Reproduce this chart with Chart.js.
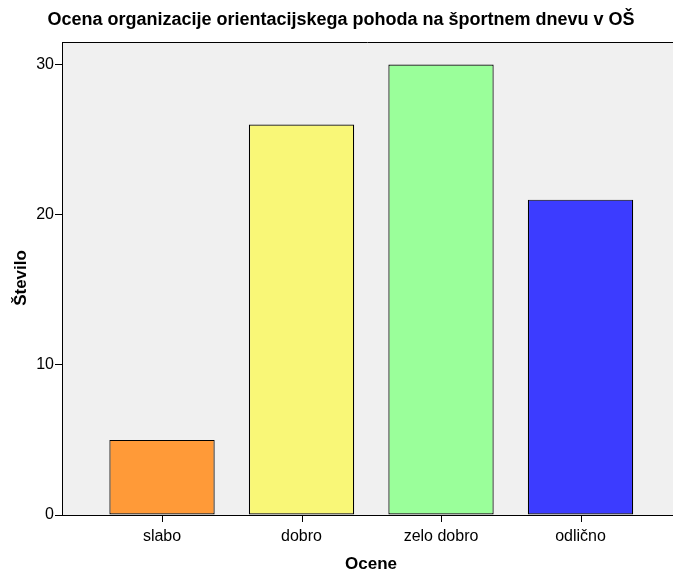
<!DOCTYPE html>
<html>
<head>
<meta charset="utf-8">
<script src="https://cdn.jsdelivr.net/npm/chart.js@4/dist/chart.umd.min.js"></script>
<style>
  html, body { margin: 0; padding: 0; background: #ffffff; }
  #wrap { width: 673px; height: 570px; position: relative; }
</style>
</head>
<body>
<div id="wrap"><canvas id="chart"></canvas></div>
<script>
// Data
const categories = ['slabo', 'dobro', 'zelo dobro', 'odlično'];
const counts = [5, 26, 30, 21];
const barColors = ['#FF9A38', '#F9F777', '#9AFF9A', '#3C3CFF'];
const yTicks = [0, 10, 20, 30];

const titleText = 'Ocena organizacije orientacijskega pohoda na športnem dnevu v OŠ';
const xTitle = 'Ocene';
const yTitle = 'Število';

const FONT = '"Liberation Sans", Arial, sans-serif';

// plot background, top frame line, x tick marks and the titles
const frame = {
    id: 'frame',
    beforeDraw(chart) {
        const { ctx, chartArea: a } = chart;
        ctx.save();
        ctx.fillStyle = '#F0F0F0';
        ctx.fillRect(a.left, a.top, a.right - a.left, a.bottom - a.top);
        ctx.restore();
    },
    afterDraw(chart) {
        const { ctx, chartArea: a } = chart;
        const xs = chart.scales.x;
        ctx.save();
        ctx.strokeStyle = '#000000';
        ctx.lineWidth = 1;
        ctx.beginPath();
        ctx.moveTo(a.left, a.top + 0.5);
        ctx.lineTo(a.right, a.top + 0.5);
        categories.forEach((c, i) => {
            const px = Math.round(xs.getPixelForValue(i)) + 0.5;
            ctx.moveTo(px, a.bottom);
            ctx.lineTo(px, a.bottom + 7);
        });
        ctx.stroke();

        ctx.fillStyle = '#000000';
        ctx.textAlign = 'center';
        ctx.textBaseline = 'middle';
        ctx.font = 'bold 18px ' + FONT;
        ctx.fillText(titleText, 341, 20);

        ctx.font = 'bold 17px ' + FONT;
        ctx.fillText(xTitle, 371, 564);

        ctx.translate(21, 278);
        ctx.rotate(-Math.PI / 2);
        ctx.fillText(yTitle, 0, 0);
        ctx.restore();
    }
};

new Chart(document.getElementById('chart'), {
    type: 'bar',
    data: {
        datasets: [{
            data: counts.map((v, i) => ({ x: i, y: v })),
            backgroundColor: barColors,
            borderColor: '#000000',
            borderWidth: 1.2,
            borderSkipped: false,
            barPercentage: 0.755,
            categoryPercentage: 1
        }]
    },
    options: {
        responsive: true,
        maintainAspectRatio: false,
        animation: false,
        layout: { padding: { top: 42, right: 0, left: 0, bottom: 0 } },
        plugins: {
            legend: { display: false },
            tooltip: { enabled: false }
        },
        scales: {
            x: {
                type: 'linear',
                offset: false,
                min: -0.717,
                max: 3.663,
                afterBuildTicks: (scale) => { scale.ticks = categories.map((c, i) => ({ value: i })); },
                afterFit: (scale) => { scale.height = 55; },
                grid: { offset: false, display: true, drawOnChartArea: false, drawTicks: false, tickLength: 7 },
                border: { color: '#000000', width: 1 },
                ticks: {
                    color: '#000000',
                    font: { family: FONT, size: 16 },
                    padding: 12,
                    autoSkip: false,
                    maxRotation: 0,
                    callback: (v) => categories[v]
                }
            },
            y: {
                min: 0,
                max: 31.5,
                afterBuildTicks: (scale) => { scale.ticks = yTicks.map(v => ({ value: v })); },
                afterFit: (scale) => { scale.width = 62; },
                grid: { drawOnChartArea: false, color: '#000000', tickLength: 7 },
                border: { color: '#000000', width: 1 },
                ticks: {
                    color: '#000000',
                    font: { family: FONT, size: 16 },
                    padding: 1
                }
            }
        }
    },
    plugins: [frame]
});
</script>
</body>
</html>
